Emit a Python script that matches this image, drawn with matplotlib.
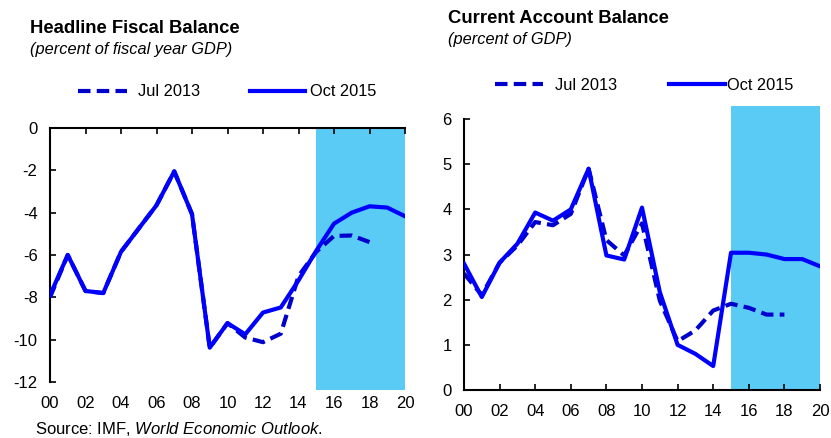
import numpy as np
import matplotlib.pyplot as plt

plt.rcParams['font.family'] = ['Liberation Sans', 'DejaVu Sans']
plt.rcParams['mathtext.fontset'] = 'custom'
plt.rcParams['mathtext.rm'] = 'Liberation Sans'
plt.rcParams['mathtext.it'] = 'Liberation Sans:italic'
plt.rcParams['axes.unicode_minus'] = False

years = np.arange(2000, 2021)
years_jul = np.arange(2000, 2019)

# headline fiscal balance, percent of fiscal year GDP
fiscal_oct15 = [-7.9, -6.0, -7.7, -7.8, -5.85, -4.75, -3.65, -2.05, -4.07, -10.38, -9.22,
                -9.75, -8.72, -8.48, -7.2, -5.8, -4.52, -4.0, -3.7, -3.76, -4.17]
fiscal_jul13 = [-8.0, -6.0, -7.7, -7.8, -5.85, -4.75, -3.65, -2.05, -4.07, -10.38, -9.22,
                -9.9, -10.12, -9.72, -7.0, -5.85, -5.1, -5.08, -5.39]

# current account balance, percent of GDP
ca_oct15 = [2.8, 2.06, 2.82, 3.24, 3.93, 3.75, 4.0, 4.9, 2.98, 2.89, 4.04,
            2.17, 1.0, 0.8, 0.53, 3.04, 3.04, 3.0, 2.9, 2.9, 2.74]
ca_jul13 = [2.58, 2.1, 2.82, 3.2, 3.72, 3.65, 3.9, 4.9, 3.32, 2.98, 3.69,
            1.98, 1.08, 1.32, 1.76, 1.91, 1.82, 1.67, 1.67]

xticks = np.arange(2000, 2021, 2)
xlabels = [f"{y % 100:02d}" for y in xticks]

W, H = 831, 438
fig = plt.figure(figsize=(W / 100, H / 100), dpi=100)

def px_axes(x0, y_top, x1, y_bot):
    return fig.add_axes([x0 / W, 1 - y_bot / H, (x1 - x0) / W, (y_bot - y_top) / H])

shade = '#59CBF5'
solid_c = '#0000FF'
dash_c = '#0000CC'
dash = (0, (3.0, 1.5))

# ---- left panel
ax1 = px_axes(50, 128, 405, 390)
ax1.axvspan(2015, 2020, color=shade, zorder=0, lw=0)
ax1.plot(years_jul, fiscal_jul13, color=dash_c, lw=3, ls=dash, zorder=2)
ax1.plot(years, fiscal_oct15, color=solid_c, lw=3, zorder=3)
ax1.set_xlim(2000, 2020)
ax1.set_ylim(-12.38, 0)
ax1.set_yticks(np.arange(-12, 1, 2))
ax1.set_xticks(xticks)
ax1.set_xticklabels(xlabels)
for s in ['right', 'bottom']:
    ax1.spines[s].set_visible(False)
ax1.spines['left'].set_bounds(-12, 0)
ax1.tick_params(axis='x', direction='in', top=True, bottom=False, labelbottom=True,
                length=4, width=1.2, pad=4, labelsize=12)
ax1.tick_params(axis='y', direction='in', length=4, width=1.2, pad=9, labelsize=12)

# ---- right panel
ax2 = px_axes(464, 106, 820, 390)
ax2.axvspan(2015, 2020, color=shade, zorder=0, lw=0)
ax2.plot(years_jul, ca_jul13, color=dash_c, lw=3, ls=dash, zorder=2)
ax2.plot(years, ca_oct15, color=solid_c, lw=3, zorder=3)
ax2.set_xlim(2000, 2020)
ax2.set_ylim(0, 6.29)
ax2.set_yticks(np.arange(0, 7, 1))
ax2.set_xticks(xticks)
ax2.set_xticklabels(xlabels)
for s in ['right', 'top']:
    ax2.spines[s].set_visible(False)
ax2.spines['left'].set_bounds(0, 6)
ax2.tick_params(axis='x', direction='in', length=4, width=1.2, pad=10, labelsize=12)
ax2.tick_params(axis='y', direction='in', length=4, width=1.2, pad=9, labelsize=12)

for ax in (ax1, ax2):
    for s in ax.spines.values():
        s.set_linewidth(1.5)

# ---- titles, legends, source (pixel overlay)
ov = fig.add_axes([0, 0, 1, 1], zorder=5)
ov.set_xlim(0, W)
ov.set_ylim(H, 0)
ov.axis('off')

ov.text(30, 33, 'Headline Fiscal Balance', fontsize=13.3, fontweight='bold', va='baseline')
ov.text(30, 54, '(percent of fiscal year GDP)', fontsize=11.8, style='italic', va='baseline')
ov.text(448, 23, 'Current Account Balance', fontsize=13.3, fontweight='bold', va='baseline')
ov.text(448, 44, '(percent of GDP)', fontsize=11.8, style='italic', va='baseline')

legend_pos = [(78, 91, 127, 138, 250, 305, 310), (495, 84, 543, 555, 669, 725, 727)]
for x0, y, x1, tx, sx0, sx1, stx in legend_pos:
    ov.plot([x0, x1], [y, y], color=dash_c, lw=3, ls=dash)
    ov.text(tx, y + 1, 'Jul 2013', fontsize=11.8, va='center')
    ov.plot([sx0, sx1], [y, y], color=solid_c, lw=3)
    ov.text(stx, y + 1, 'Oct 2015', fontsize=11.8, va='center')

ov.text(35, 434, r'Source: IMF, $\it{World\ Economic\ Outlook}$.', fontsize=12, va='baseline')

fig.savefig('out.png', dpi=100)
